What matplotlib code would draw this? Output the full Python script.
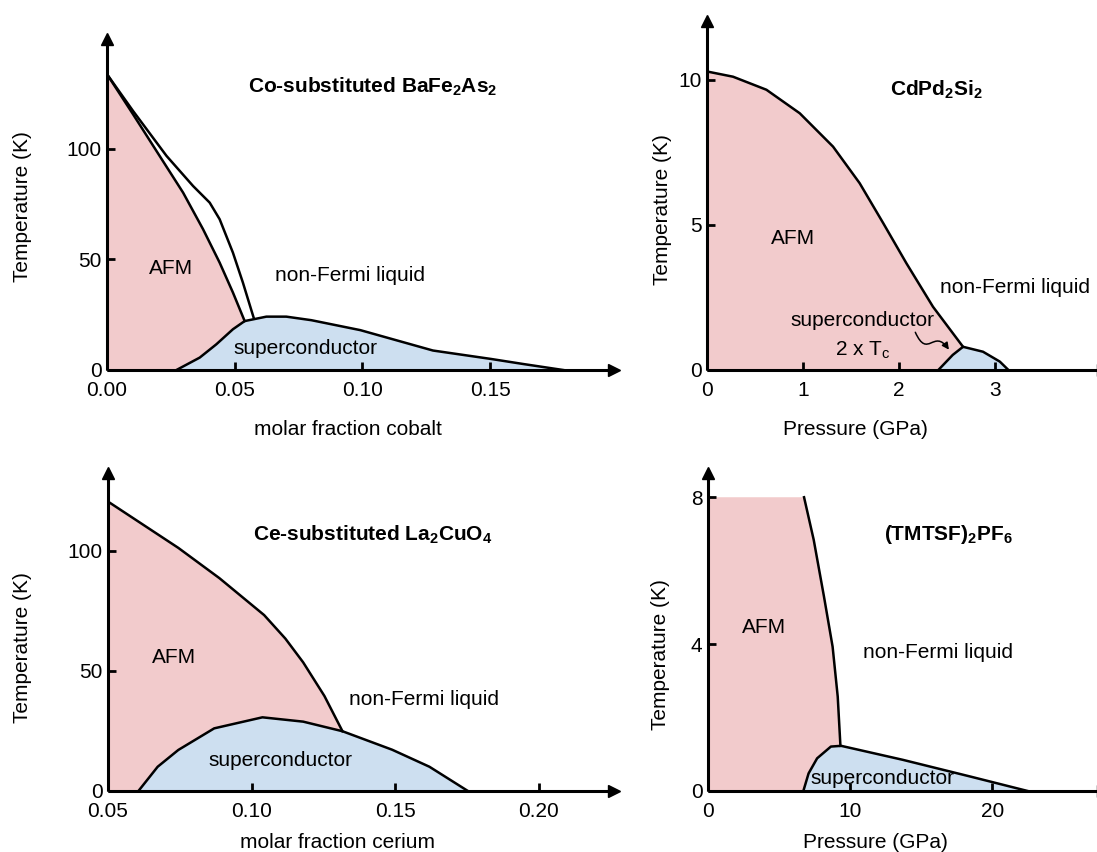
import matplotlib
matplotlib.use('Agg')
import matplotlib.pyplot as plt
from matplotlib.path import Path
from matplotlib.patches import FancyArrowPatch

plt.rcParams['font.family'] = ['Liberation Sans', 'DejaVu Sans']
plt.rcParams['mathtext.default'] = 'regular'
plt.rcParams['font.size'] = 15

PINK = '#f2cbcc'
BLUE = '#cddff0'

# ---- Co-substituted BaFe2As2 ----
co_afm_x = [0.0, 0.0102, 0.0206, 0.0298, 0.0376, 0.0441, 0.0493, 0.0539]
co_afm_t = [133.6, 115.5, 96.7, 80.1, 63.6, 48.5, 35.0, 22.1]
co_struct_x = [0.0, 0.0102, 0.0233, 0.0337, 0.0402, 0.0441, 0.0493, 0.0532, 0.0574]
co_struct_t = [133.6, 117.0, 96.7, 83.1, 75.6, 68.1, 53.0, 39.5, 23.7]
co_sc_x = [0.0272, 0.0363, 0.0428, 0.0493, 0.0539, 0.0624, 0.0702, 0.0800, 0.0992,
           0.1134, 0.1276, 0.1503, 0.163, 0.1786]
co_sc_t = [0.0, 5.6, 11.6, 18.4, 22.1, 24.1, 24.1, 22.5, 18.0, 13.4, 8.8, 5.0, 2.7, 0.0]

# ---- CdPd2Si2 ----
cd_afm_p = [0.0, 0.271, 0.619, 0.966, 1.313, 1.59, 1.836, 2.077, 2.354, 2.667]
cd_afm_t = [10.29, 10.11, 9.66, 8.85, 7.70, 6.44, 5.06, 3.68, 2.18, 0.80]
cd_sc_p = [2.41, 2.56, 2.667, 2.875, 3.05, 3.14]
cd_sc_t = [0.0, 0.52, 0.80, 0.63, 0.29, 0.0]

# ---- Ce-substituted La2CuO4 ----
ce_afm_x = [0.05, 0.0745, 0.0888, 0.1044, 0.1118, 0.118, 0.1254, 0.1317]
ce_afm_t = [120.6, 101.3, 88.7, 73.3, 63.5, 53.6, 39.6, 24.9]
ce_sc_x = [0.0606, 0.0673, 0.0745, 0.087, 0.1038, 0.118, 0.1317, 0.149,
           0.162, 0.1754]
ce_sc_t = [0.0, 10.1, 17.1, 26.1, 30.7, 28.9, 24.9, 17.2, 10.1, 0.0]

# ---- (TMTSF)2PF6 ----
tm_afm_p = [6.76, 7.44, 8.16, 8.77, 9.13, 9.32]
tm_afm_t = [8.0, 6.84, 5.3, 3.93, 2.57, 1.23]
tm_sc_p = [6.71, 7.08, 7.68, 8.65, 9.37, 13.7, 18.5, 22.5]
tm_sc_t = [0.0, 0.48, 0.89, 1.21, 1.23, 0.85, 0.39, 0.0]

W, H = 1097, 852
fig = plt.figure(figsize=(W / 100, H / 100), dpi=100)


def make_axes(left, right, top, bottom):
    ax = fig.add_axes([left / W, 1 - bottom / H, (right - left) / W, (bottom - top) / H])
    ax.spines[['top', 'right']].set_visible(False)
    for s in ('left', 'bottom'):
        ax.spines[s].set_linewidth(2.2)
        ax.spines[s].set_capstyle('butt')
    ax.plot(1, 0, '>k', ms=9, transform=ax.transAxes, clip_on=False)
    ax.plot(0, 1, '^k', ms=9, transform=ax.transAxes, clip_on=False)
    ax.tick_params(direction='in', length=6, width=2, labelsize=15)
    ax.tick_params(axis='x', pad=8)
    ax.tick_params(axis='y', pad=4)
    return ax


def labels(ax, xlabel, xpx, ypx, ylx, yly):
    # axis labels placed at pixel positions of the reference
    fig.text(xpx / W, 1 - ypx / H, xlabel, ha='center', va='center', fontsize=15)
    fig.text(ylx / W, 1 - yly / H, 'Temperature (K)', ha='center', va='center',
             rotation=90, fontsize=15)


# panel 1
ax1 = make_axes(107, 614, 39, 370)
ax1.set_xlim(0, 0.1985)
ax1.set_ylim(0, 149.5)
ax1.fill(co_afm_x + co_sc_x[3::-1] + [0],
         co_afm_t + co_sc_t[3::-1] + [0], color=PINK, lw=0)
ax1.fill(co_sc_x, co_sc_t, color=BLUE, lw=0)
ax1.plot(co_afm_x, co_afm_t, 'k', lw=1.8)
ax1.plot(co_struct_x, co_struct_t, 'k', lw=1.8)
ax1.plot(co_sc_x, co_sc_t, 'k', lw=1.8)
ax1.set_xticks([0, 0.05, 0.10, 0.15], ['0.00', '0.05', '0.10', '0.15'])
ax1.set_yticks([0, 50, 100])
ax1.text(0.1042, 127.9, 'Co-substituted BaFe$_2$As$_2$', ha='center', va='center',
         fontweight='bold')
ax1.text(0.025, 45.7, 'AFM', ha='center', va='center')
ax1.text(0.095, 42.9, 'non-Fermi liquid', ha='center', va='center')
ax1.text(0.0776, 9.6, 'superconductor', ha='center', va='center')
labels(ax1, 'molar fraction cobalt', 348, 430, 23, 207)

# panel 2
ax2 = make_axes(707, 1103, 21, 370)
ax2.set_xlim(0, 4.125)
ax2.set_ylim(0, 12.03)
ax2.fill([0] + cd_afm_p + cd_sc_p[1::-1],
         [0] + cd_afm_t + cd_sc_t[1::-1], color=PINK, lw=0)
ax2.fill(cd_sc_p, cd_sc_t, color=BLUE, lw=0)
ax2.plot(cd_afm_p, cd_afm_t, 'k', lw=1.8)
ax2.plot(cd_sc_p, cd_sc_t, 'k', lw=1.8)
ax2.set_xticks([0, 1, 2, 3])
ax2.set_yticks([0, 5, 10])
ax2.text(2.385, 9.66, 'CdPd$_2$Si$_2$', ha='center', va='center', fontweight='bold')
ax2.text(0.896, 4.55, 'AFM', ha='center', va='center')
ax2.text(3.21, 2.86, 'non-Fermi liquid', ha='center', va='center')
ax2.text(1.617, 1.69, 'superconductor', ha='center', va='center')
ax2.text(1.625, 0.69, '2 x T$_c$', ha='center', va='center')
squiggle = Path([(2.17, 1.30), (2.30, 0.35), (2.36, 1.45), (2.52, 0.70)],
                [Path.MOVETO, Path.CURVE4, Path.CURVE4, Path.CURVE4])
ax2.add_patch(FancyArrowPatch(path=squiggle, arrowstyle='-|>', mutation_scale=10,
                              color='k', lw=1.1))
labels(ax2, 'Pressure (GPa)', 855, 430, 663, 210)

# panel 3
ax3 = make_axes(108, 614, 473, 791)
ax3.set_xlim(0.05, 0.2263)
ax3.set_ylim(0, 132.5)
ax3.fill(ce_afm_x + ce_sc_x[6::-1] + [0.05],
         ce_afm_t + ce_sc_t[6::-1] + [0], color=PINK, lw=0)
ax3.fill(ce_sc_x, ce_sc_t, color=BLUE, lw=0)
ax3.plot(ce_afm_x, ce_afm_t, 'k', lw=1.8)
ax3.plot(ce_sc_x, ce_sc_t, 'k', lw=1.8)
ax3.set_xticks([0.05, 0.10, 0.15, 0.20], ['0.05', '0.10', '0.15', '0.20'])
ax3.set_yticks([0, 50, 100])
ax3.text(0.1423, 106.7, 'Ce-substituted La$_2$CuO$_4$', ha='center', va='center',
         fontweight='bold')
ax3.text(0.073, 55.8, 'AFM', ha='center', va='center')
ax3.text(0.160, 38.3, 'non-Fermi liquid', ha='center', va='center')
ax3.text(0.110, 12.9, 'superconductor', ha='center', va='center')
labels(ax3, 'molar fraction cerium', 338, 843, 23, 648)

# panel 4
ax4 = make_axes(708, 1103, 473, 791)
ax4.set_xlim(0, 27.8)
ax4.set_ylim(0, 8.66)
ax4.fill([0] + tm_afm_p + tm_sc_p[3::-1] + [0],
         [8.0] + tm_afm_t + tm_sc_t[3::-1] + [0], color=PINK, lw=0)
ax4.fill(tm_sc_p, tm_sc_t, color=BLUE, lw=0)
ax4.plot(tm_afm_p, tm_afm_t, 'k', lw=1.8)
ax4.plot(tm_sc_p, tm_sc_t, 'k', lw=1.8)
ax4.set_xticks([0, 10, 20])
ax4.set_yticks([0, 4, 8])
ax4.text(16.9, 6.98, '(TMTSF)$_2$PF$_6$', ha='center', va='center', fontweight='bold')
ax4.text(3.96, 4.44, 'AFM', ha='center', va='center')
ax4.text(16.2, 3.76, 'non-Fermi liquid', ha='center', va='center')
ax4.text(12.3, 0.35, 'superconductor', ha='center', va='center')
labels(ax4, 'Pressure (GPa)', 875, 842, 661, 655)

fig.savefig('out.png', dpi=100)
